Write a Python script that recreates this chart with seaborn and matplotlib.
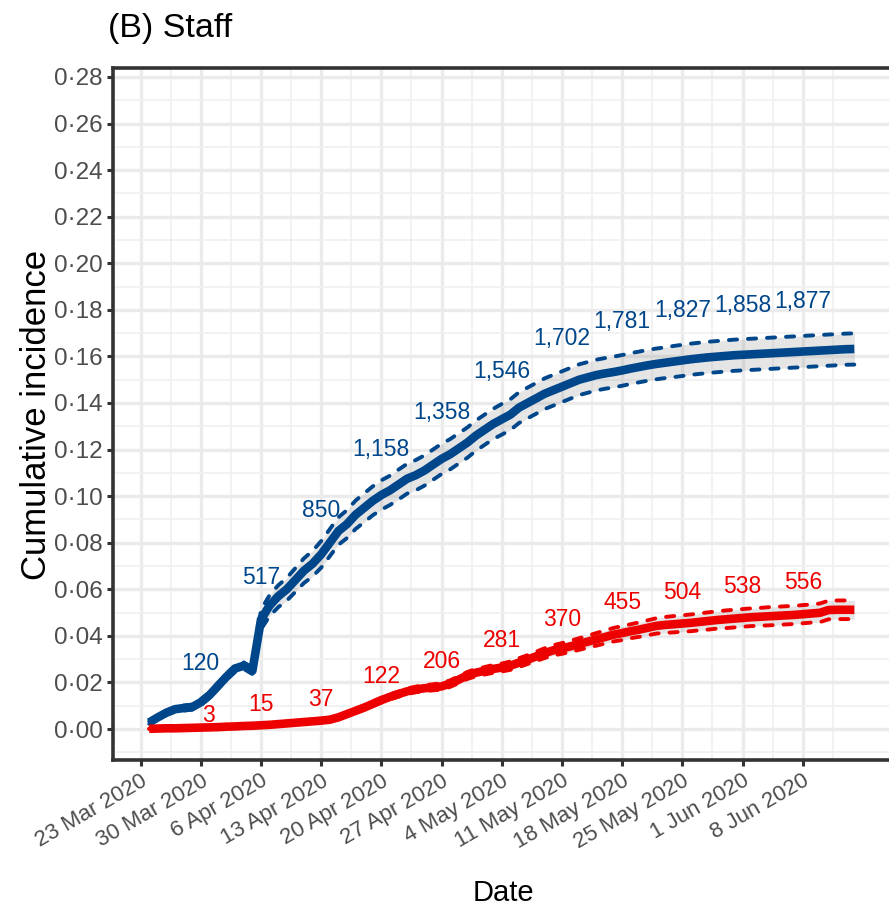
import numpy as np
import pandas as pd
import matplotlib
matplotlib.use("Agg")
import matplotlib.pyplot as plt
import matplotlib.dates as mdates
from matplotlib.ticker import FixedLocator, MultipleLocator, FuncFormatter
import seaborn as sns

# ---- data -----------------------------------------------------------------
# Daily cumulative incidence from 24 Mar 2020 to 14 Jun 2020
first_day = "2020-03-24"

blue_incidence = [
    0.0028, 0.0050, 0.0070, 0.0085, 0.0090, 0.0094, 0.0115, 0.0145, 0.0185, 0.0225,
    0.0260, 0.0272, 0.0250, 0.0470, 0.0530, 0.0570, 0.0600, 0.0640, 0.0680, 0.0710,
    0.0750, 0.0800, 0.0850, 0.0880, 0.0920, 0.0950, 0.0980, 0.1005, 0.1025, 0.1050,
    0.1075, 0.1090, 0.1110, 0.1135, 0.1160, 0.1180, 0.1205, 0.1230, 0.1260, 0.1285,
    0.1310, 0.1330, 0.1350, 0.1380, 0.1400, 0.1420, 0.1440, 0.1455, 0.1470, 0.1485,
    0.1500, 0.1510, 0.1520, 0.1527, 0.1533, 0.1540, 0.1548, 0.1555, 0.1562, 0.1568,
    0.1573, 0.1578, 0.1583, 0.1588, 0.1592, 0.1596, 0.1599, 0.1602, 0.1605, 0.1607,
    0.1609, 0.1611, 0.1613, 0.1615, 0.1617, 0.1619, 0.1621, 0.1623, 0.1625, 0.1627,
    0.1629, 0.1631, 0.1632,
]
blue_ci_half = (
    [0.0006, 0.0008, 0.0009, 0.0010, 0.0011, 0.0011, 0.0012, 0.0012, 0.0013, 0.0013,
     0.0014, 0.0014, 0.0014]
    + [0.0042, 0.0045, 0.0047, 0.0049, 0.0051, 0.0053, 0.0055, 0.0057]
    + [0.0058, 0.0059, 0.0060, 0.0061, 0.0062, 0.0062, 0.0063, 0.0063, 0.0064, 0.0064]
    + [0.0065] * 10
    + [0.0066] * 20
    + [0.0067] * 22
)

red_incidence = [
    0.0001, 0.0002, 0.0003, 0.0003, 0.0004, 0.0005, 0.0006, 0.0007, 0.0008, 0.0010,
    0.0011, 0.0013, 0.0014, 0.0016, 0.0018, 0.0021, 0.0024, 0.0027, 0.0030, 0.0033,
    0.0036, 0.0040, 0.0050, 0.0064, 0.0078, 0.0092, 0.0108, 0.0124, 0.0138, 0.0150,
    0.0162, 0.0170, 0.0175, 0.0179, 0.0183, 0.0195, 0.0212, 0.0230, 0.0242, 0.0250,
    0.0258, 0.0264, 0.0272, 0.0285, 0.0298, 0.0312, 0.0326, 0.0338, 0.0346, 0.0355,
    0.0365, 0.0375, 0.0385, 0.0395, 0.0405, 0.0412, 0.0420, 0.0427, 0.0435, 0.0443,
    0.0447, 0.0450, 0.0453, 0.0456, 0.0460, 0.0464, 0.0468, 0.0471, 0.0474, 0.0477,
    0.0480, 0.0482, 0.0484, 0.0486, 0.0488, 0.0490, 0.0493, 0.0496, 0.0499, 0.0511,
    0.0512, 0.0512, 0.0512,
]
red_ci_half = (
    [0.0001, 0.0001, 0.0002, 0.0002, 0.0002, 0.0002, 0.0003, 0.0003, 0.0003, 0.0003,
     0.0004, 0.0004, 0.0004]
    + [0.0004, 0.0005, 0.0005, 0.0005, 0.0006, 0.0006, 0.0006, 0.0007]
    + [0.0007, 0.0008, 0.0008, 0.0009, 0.0009, 0.0010, 0.0010, 0.0011, 0.0011, 0.0012]
    + [0.0012, 0.0013, 0.0013, 0.0014, 0.0014, 0.0015, 0.0015, 0.0016, 0.0016, 0.0017]
    + [0.0017, 0.0018, 0.0019, 0.0019, 0.0020, 0.0021, 0.0022, 0.0023, 0.0024, 0.0025,
       0.0026, 0.0027, 0.0028, 0.0029, 0.0030, 0.0030, 0.0031, 0.0032, 0.0033, 0.0034]
    + [0.0035, 0.0035, 0.0036, 0.0036, 0.0037, 0.0037, 0.0038, 0.0038, 0.0038, 0.0038,
       0.0038, 0.0039, 0.0039, 0.0039, 0.0039, 0.0039, 0.0039, 0.0040, 0.0040, 0.0040,
       0.0040, 0.0040]
)

# Weekly cumulative counts printed above each curve
count_dates = ["2020-03-30", "2020-04-06", "2020-04-13", "2020-04-20", "2020-04-27",
               "2020-05-04", "2020-05-11", "2020-05-18", "2020-05-25", "2020-06-01",
               "2020-06-08"]
blue_counts = [120, 517, 850, 1158, 1358, 1546, 1702, 1781, 1827, 1858, 1877]
red_counts = [3, 15, 37, 122, 206, 281, 370, 455, 504, 538, 556]

# Axis ticks
x_tick_dates = ["2020-03-23", "2020-03-30", "2020-04-06", "2020-04-13", "2020-04-20",
                "2020-04-27", "2020-05-04", "2020-05-11", "2020-05-18", "2020-05-25",
                "2020-06-01", "2020-06-08"]
y_ticks = [0.00, 0.02, 0.04, 0.06, 0.08, 0.10, 0.12, 0.14, 0.16, 0.18, 0.20, 0.22,
           0.24, 0.26, 0.28]

assert len(blue_incidence) == len(blue_ci_half) == len(red_incidence) == len(red_ci_half)

# ---- style ----------------------------------------------------------------
BLUE = "#00468B"
RED = "#ED0000"
AXIS = "#333333"
TICKTXT = "#4D4D4D"
GRID = "#EBEBEB"

sns.set_theme(style="whitegrid")
FONT = ["Liberation Sans", "DejaVu Sans"]
plt.rcParams["font.family"] = FONT

days = pd.date_range(first_day, periods=len(blue_incidence), freq="D")
frames = []
for name, vals, half in [("blue", blue_incidence, blue_ci_half),
                         ("red", red_incidence, red_ci_half)]:
    v = np.asarray(vals)
    h = np.asarray(half)
    frames.append(pd.DataFrame({"date": days, "incidence": v,
                                "lower": v - h, "upper": v + h, "series": name}))
data = pd.concat(frames, ignore_index=True)
palette = {"blue": BLUE, "red": RED}

# ---- figure -----------------------------------------------------------------
W, H = 889, 911
fig = plt.figure(figsize=(W / 100, H / 100), dpi=100)
fig.patch.set_facecolor("white")
left_px, right_px, top_px, bottom_px = 113, 905, 68, 760
ax = fig.add_axes([left_px / W, 1 - bottom_px / H,
                   (right_px - left_px) / W, (bottom_px - top_px) / H])
ax.set_facecolor("white")

px_per_day = 8.599
x0 = mdates.date2num(pd.Timestamp("2020-03-23")) - (140.6 - left_px) / px_per_day
ax.set_xlim(x0, x0 + (right_px - left_px) / px_per_day)
ax.set_ylim(-0.01331, 0.28386)

# confidence ribbons and dashed bounds
for name, grp in data.groupby("series", sort=False):
    ax.fill_between(grp["date"], grp["lower"], grp["upper"], color="grey",
                    alpha=0.2, lw=0, zorder=2)
    for col in ("lower", "upper"):
        ax.plot(grp["date"], grp[col], color=palette[name], lw=2.8,
                linestyle=(0, (2.1, 2.8)), dash_capstyle="round", zorder=3)

# main curves
sns.lineplot(data=data, x="date", y="incidence", hue="series", hue_order=["blue", "red"],
             palette=palette, lw=6.2, legend=False, errorbar=None, estimator=None,
             ax=ax, zorder=4)
for ln in ax.lines[-2:]:
    ln.set_solid_capstyle("butt")
    ln.set_solid_joinstyle("round")

# weekly count labels; a label that would sit on the other curve is pushed aside
label_nudge_pt = {("red", 3): (5.8, -5.8)}
lookup = {name: grp.set_index("date")["incidence"] for name, grp in data.groupby("series")}
for d, cb, cr in zip(count_dates, blue_counts, red_counts):
    ts = pd.Timestamp(d)
    vb = lookup["blue"][ts]
    vr = lookup["red"][ts]
    for name, cnt, y, col in [("blue", cb, 1.03 * vb + 0.0165, BLUE),
                              ("red", cr, 1.1 * vr + 0.0088, RED)]:
        ax.annotate(f"{cnt:,}", xy=(ts, y), xytext=label_nudge_pt.get((name, cnt), (0, 0)),
                    textcoords="offset points", color=col, ha="center", va="center",
                    fontsize=16.5, zorder=5)

# ---- axes styling -----------------------------------------------------------
tick_nums = [mdates.date2num(pd.Timestamp(t)) for t in x_tick_dates]
ax.xaxis.set_major_locator(FixedLocator(tick_nums))
ax.xaxis.set_minor_locator(FixedLocator(list(np.arange(tick_nums[0] - 10.5, ax.get_xlim()[1], 7.0))))
ax.xaxis.set_major_formatter(FuncFormatter(
    lambda v, _: (lambda d: f"{d.day} {d:%b %Y}")(mdates.num2date(v))))
ax.yaxis.set_major_locator(FixedLocator(y_ticks))
ax.yaxis.set_minor_locator(MultipleLocator(0.01))
ax.yaxis.set_major_formatter(FuncFormatter(lambda v, _: f"{v:.2f}".replace(".", "\u00b7")))

ax.set_axisbelow(True)
ax.grid(which="major", color=GRID, lw=2.4, zorder=0)
ax.grid(which="minor", color="#F0F0F0", lw=1.2, zorder=0)

for side in ("left", "bottom", "top"):
    ax.spines[side].set_color(AXIS)
    ax.spines[side].set_linewidth(2.6)
    ax.spines[side].set_visible(True)
ax.spines["right"].set_visible(False)

ax.tick_params(which="major", length=4.5, width=2.2, color=AXIS, pad=3,
               labelcolor=TICKTXT, bottom=True, left=True)
ax.tick_params(which="minor", length=0)
ax.tick_params(axis="y", labelsize=17.5)
ax.tick_params(axis="x", labelsize=16)
for lab in ax.get_xticklabels():
    lab.set_rotation(30)
    lab.set_ha("right")
    lab.set_va("top")
    lab.set_rotation_mode("anchor")

ax.set_xlabel("Date", fontsize=21, color="black", va="center")
ax.xaxis.set_label_coords((503 - left_px) / (right_px - left_px),
                          -(893 - bottom_px) / (bottom_px - top_px))
ax.set_ylabel("Cumulative incidence", fontsize=25, color="black", va="center")
ax.yaxis.set_label_coords(-(left_px - 37) / (right_px - left_px),
                          (bottom_px - 415) / (bottom_px - top_px))

fig.text(108 / W, 1 - 28 / H, "(B) Staff", ha="left", va="center", fontsize=24.5,
         color="black")

fig.savefig("out.png", dpi=100, facecolor="white")
